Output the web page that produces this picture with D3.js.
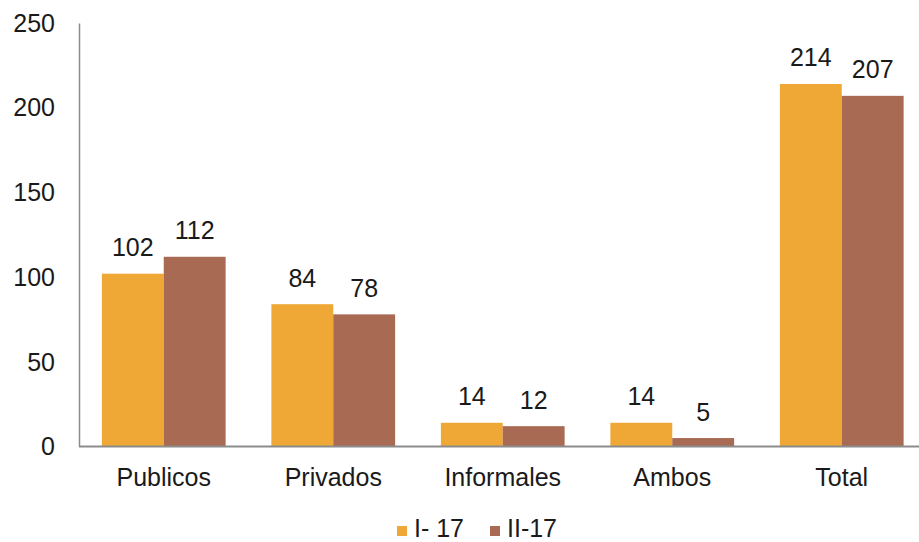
<!DOCTYPE html>
<html><head><meta charset="utf-8">
<script src="https://cdn.jsdelivr.net/npm/d3@7"></script>
<style>body{margin:0;background:#fff;}svg{display:block;font-family:"Liberation Sans",Arial,sans-serif;}</style>
</head><body>
<svg id="c" width="919" height="542"></svg>
<script>
const categories = ["Publicos","Privados","Informales","Ambos","Total"];
const seriesNames = ["I- 17","II-17"];
const seriesI = [102,84,14,14,214];
const seriesII = [112,78,12,5,207];
const yTicks = [0,50,100,150,200,250];
const colors = ["#EFA735","#A96A53"];

const svg = d3.select("#c");
const mLeft = 79, mRight = 926.5, mTop = 23, mBottom = 446.5;
const y = d3.scaleLinear().domain([0,250]).range([mBottom, mTop]);
const x0 = d3.scaleBand().domain(categories).range([mLeft, mRight]).paddingInner(0.27).paddingOuter(0.135);
const x1 = d3.scaleBand().domain(seriesNames).range([0, x0.bandwidth()]);
const data = categories.map((c,i)=>({cat:c, vals:[seriesI[i], seriesII[i]]}));

const g = svg.append("g");
const groups = g.selectAll("g.cat").data(data).join("g").attr("class","cat")
  .attr("transform", d=>`translate(${x0(d.cat)},0)`);
groups.selectAll("rect").data(d=>d.vals.map((v,j)=>({v,j}))).join("rect")
  .attr("x", d=>x1(seriesNames[d.j]))
  .attr("width", x1.bandwidth())
  .attr("y", d=>y(d.v))
  .attr("height", d=>y(0)-y(d.v))
  .attr("fill", d=>colors[d.j]);
groups.selectAll("text").data(d=>d.vals.map((v,j)=>({v,j}))).join("text")
  .attr("x", d=>x1(seriesNames[d.j]) + x1.bandwidth()/2)
  .attr("y", d=>y(d.v) - 17.5)
  .attr("text-anchor","middle")
  .attr("font-size", 25).attr("fill","#1a1a1a")
  .text(d=>d.v);

// Y axis
const yAxis = svg.append("g").attr("transform",`translate(${mLeft},0)`)
  .call(d3.axisLeft(y).tickValues(yTicks).tickSize(0).tickPadding(24));
yAxis.select(".domain").attr("stroke","#8c8c8c").attr("stroke-width",1.5);
yAxis.selectAll("text").attr("font-size",25).attr("fill","#1a1a1a").attr("font-family","Liberation Sans, Arial, sans-serif").attr("dy","0.33em");

// X axis
const xAxis = svg.append("g").attr("transform",`translate(0,${mBottom})`)
  .call(d3.axisBottom(x0).tickSize(0).tickPadding(22));
xAxis.select(".domain").attr("d",`M${mLeft},0H919`).attr("stroke","#8c8c8c").attr("stroke-width",2);
xAxis.selectAll("text").attr("font-size",25).attr("fill","#1a1a1a").attr("font-family","Liberation Sans, Arial, sans-serif");

// Legend
const legendX = [397, 490];
const leg = svg.append("g");
seriesNames.forEach((s,i)=>{
  leg.append("rect").attr("x",legendX[i]).attr("y",526).attr("width",10).attr("height",10).attr("fill",colors[i]);
  leg.append("text").attr("x",legendX[i]+17).attr("y",537).attr("font-size",25).attr("fill","#1a1a1a").text(s);
});
</script>
</body></html>
